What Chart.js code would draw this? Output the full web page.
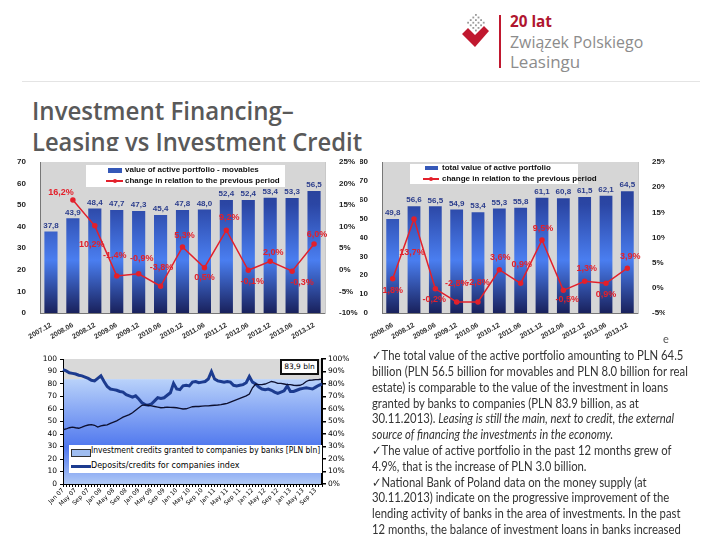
<!DOCTYPE html>
<html>
<head>
<meta charset="utf-8">
<script src="https://cdn.jsdelivr.net/npm/chart.js@4.4.0/dist/chart.umd.min.js"></script>
<style>
  body { margin: 0; width: 720px; height: 540px; background: #fff; position: relative; overflow: hidden; font-family: Lato, "Open Sans", sans-serif; }
  .abs { position: absolute; }
  .fit { white-space: nowrap; transform-origin: 0 0; }
  .box { background: #fff; }
  .title { color: #595959; font-family: "Open Sans", sans-serif; font-weight: 600; font-size: 26px; left: 32px; }
  .logo { font-family: "Open Sans", sans-serif; font-size: 16px; color: #8c8c8c; left: 510px; }
  .leg { font-family: "Liberation Sans", Arial, sans-serif; font-weight: bold; font-size: 8px; color: #111; }
  .txt { left: 372px; font-size: 13px; color: #333; font-family: Lato, sans-serif; }
  .txt i { font-style: italic; }
</style>
</head>
<body>
<canvas id="icon" class="abs" width="34" height="44" style="left:458px;top:10px"></canvas>
<div class="abs" style="left:499px;top:15px;width:1.5px;height:53px;background:#c0182f"></div>
<div class="abs logo fit" id="lg1" style="top:10px;color:#b0152f;font-weight:700">20 lat</div>
<div class="abs logo fit" id="lg2" style="top:31px">Związek Polskiego</div>
<div class="abs logo fit" id="lg3" style="top:51px">Leasingu</div>
<div class="abs" style="left:22px;top:81px;width:678px;height:1px;background:#e4e4e4"></div>

<div class="abs title fit" id="t1" style="top:92px">Investment Financing–</div>
<div class="abs title fit" id="t2" style="top:123px">Leasing vs Investment Credit</div>

<div class="abs box" style="left:0;top:151px;width:360px;height:190px"><canvas id="movChart" width="360" height="190"></canvas></div>
<div class="abs box" style="left:360px;top:151px;width:305px;height:190px"><canvas id="totChart" width="305" height="190"></canvas></div>

<div class="abs box" style="left:86px;top:165px;width:199px;height:22px"></div>
<div class="abs" style="left:108px;top:168px;width:14px;height:5px;background:#3558b8"></div>
<div class="abs leg fit" style="left:125px;top:165px">value of active portfolio - movables</div>
<div class="abs" style="left:106px;top:180px;width:17px;height:1.5px;background:#e3202b"></div>
<div class="abs" style="left:112.5px;top:178.5px;width:4px;height:4px;border-radius:2px;background:#e3202b"></div>
<div class="abs leg fit" style="left:125px;top:176px">change in relation to the previous period</div>

<div class="abs box" style="left:410px;top:164px;width:168px;height:20px"></div>
<div class="abs" style="left:425px;top:166px;width:13px;height:4px;background:#3558b8"></div>
<div class="abs leg fit" style="left:442px;top:163px">total value of active portfolio</div>
<div class="abs" style="left:423px;top:178px;width:16px;height:1.5px;background:#e3202b"></div>
<div class="abs" style="left:429px;top:176.5px;width:4px;height:4px;border-radius:2px;background:#e3202b"></div>
<div class="abs leg fit" style="left:442px;top:174px">change in relation to the previous period</div>

<div class="abs box" style="left:30px;top:345px;width:330px;height:180px"><canvas id="credChart" width="330" height="180"></canvas></div>
<div class="abs" style="left:69px;top:445px;width:253px;height:28px;background:#fff"></div>
<div class="abs" style="left:71px;top:449px;width:18px;height:6px;background:#9fbdf0;border:1px solid #333"></div>
<div class="abs fit" id="cl1" style="left:91px;top:446px;font-family:'DejaVu Sans';font-size:8px;color:#000">Investment credits granted to companies by banks [PLN bln]</div>
<div class="abs" style="left:71px;top:465px;width:20px;height:3px;background:#1c3b8f"></div>
<div class="abs fit" id="cl2" style="left:91px;top:461px;font-family:'DejaVu Sans';font-size:8px;color:#000">Deposits/credits for companies index</div>
<div class="abs fit" style="left:280px;top:359px;width:35px;height:12px;border:2px solid #111;background:#fff;font-family:'DejaVu Sans';font-size:7.5px;line-height:12px;text-align:center;color:#000">83,9 bln</div>

<div class="abs" style="left:663px;top:332px;font-size:11px;color:#555">e</div>

<div class="abs txt fit" style="top:347px">✓The total value of the active portfolio amounting to PLN 64.5</div>
<div class="abs txt fit" style="top:363px">billion (PLN 56.5 billion for movables and PLN 8.0 billion for real</div>
<div class="abs txt fit" style="top:379px">estate) is comparable to the value of the investment in loans</div>
<div class="abs txt fit" style="top:395px">granted by banks to companies (PLN 83.9 billion, as at</div>
<div class="abs txt fit" style="top:410px">30.11.2013). <i>Leasing is still the main, next to credit, the external</i></div>
<div class="abs txt fit" style="top:426px"><i>source of financing the investments in the economy.</i></div>
<div class="abs txt fit" style="top:442px">✓The value of active portfolio in the past 12 months grew of</div>
<div class="abs txt fit" style="top:458px">4.9%, that is the increase of PLN 3.0 billion.</div>
<div class="abs txt fit" style="top:474px">✓National Bank of Poland data on the money supply (at</div>
<div class="abs txt fit" style="top:489px">30.11.2013) indicate on the progressive improvement of the</div>
<div class="abs txt fit" style="top:505px">lending activity of banks in the area of investments. In the past</div>
<div class="abs txt fit" style="top:521px">12 months, the balance of investment loans in banks increased</div>

<script>
// leasing portfolio - movables (PLN bln) and change vs previous period (%)
const periodsMov = ['2007.12', '2008.06', '2008.12', '2009.06', '2009.12', '2010.06', '2010.12',
                    '2011.06', '2011.12', '2012.06', '2012.12', '2013.06', '2013.12'];
const movables = [37.8, 43.9, 48.4, 47.7, 47.3, 45.4, 47.8, 48.0, 52.4, 52.4, 53.4, 53.3, 56.5];
const movChange = [null, 16.2, 10.2, -1.4, -0.9, -3.8, 5.3, 0.5, 9.2, -0.1, 2.0, -0.3, 6.0];

// total active portfolio (PLN bln) and change (%)
const periodsTot = ['2008.06', '2008.12', '2009.06', '2009.12', '2010.06', '2010.12',
                    '2011.06', '2011.12', '2012.06', '2012.12', '2013.06', '2013.12'];
const totalPortfolio = [49.8, 56.6, 56.5, 54.9, 53.4, 55.3, 55.8, 61.1, 60.8, 61.5, 62.1, 64.5];
const totChange = [1.8, 13.7, -0.2, -2.8, -2.8, 3.6, 0.9, 9.5, -0.5, 1.3, 0.9, 3.9];

// monthly, Jan 07 .. Nov 13
const monthNames = ['Jan', 'Feb', 'Mar', 'Apr', 'May', 'Jun', 'Jul', 'Aug', 'Sep', 'Oct', 'Nov', 'Dec'];
const monthTicks = ['Jan 07', 'May 07', 'Sep 07', 'Jan 08', 'May 08', 'Sep 08', 'Jan 09', 'May 09', 'Sep 09',
                    'Jan 10', 'May 10', 'Sep 10', 'Jan 11', 'May 11', 'Sep 11', 'Jan 12', 'May 12', 'Sep 12',
                    'Jan 13', 'May 13', 'Sep 13'];
const investCredits = [
  43.4, 44.0, 45.0, 45.5, 45.0, 44.6, 45.5, 46.5, 47.2, 47.5, 47.0, 45.5,
  46.5, 47.0, 47.3, 48.5, 49.5, 50.5, 52.0, 53.5, 54.5, 55.5, 57.0, 59.0,
  61.0, 63.0, 63.3, 63.0, 62.5, 62.0, 61.5, 61.0, 61.2, 61.5, 61.3, 61.2,
  61.0, 60.5, 60.0, 60.2, 61.0, 61.8, 62.0, 62.0, 62.3, 62.5, 62.5, 62.8,
  63.0, 63.2, 63.5, 64.0, 64.5, 65.5, 66.5, 67.5, 68.5, 69.5, 70.5, 72.0,
  77.0, 80.0, 79.5, 79.5, 80.0, 81.0, 82.0, 81.5, 80.5, 80.5, 80.0, 79.5,
  79.5, 79.0, 78.8, 79.0, 80.0, 82.0, 83.0, 83.2, 83.5, 83.6, 83.9];
const depositRatio = [
  91.5, 90.5, 89.0, 88.5, 88.0, 87.0, 86.5, 85.5, 84.5, 83.0, 82.5, 84.5,
  86.5, 82.0, 78.0, 76.0, 75.5, 75.0, 74.0, 73.5, 71.5, 70.5, 69.5, 70.5,
  68.0, 65.0, 63.5, 63.0, 64.0, 66.5, 69.0, 68.5, 69.0, 71.0, 73.0, 80.5,
  76.0, 75.5, 78.5, 79.0, 78.5, 81.5, 82.0, 81.0, 81.5, 82.0, 84.0, 90.0,
  84.0, 82.5, 82.0, 81.5, 82.0, 81.5, 79.0, 78.5, 79.0, 79.5, 81.0, 86.0,
  81.5, 80.0, 77.5, 76.0, 75.5, 76.0, 75.0, 73.5, 72.5, 73.5, 74.5, 78.5,
  74.0, 74.0, 75.0, 76.0, 76.5, 77.0, 76.5, 76.0, 77.5, 79.0, 80.0];

const months = [];
for (let i = 0; i < investCredits.length; i++) {
    months.push(monthNames[i % 12] + ' ' + String(7 + Math.floor(i / 12)).padStart(2, '0'));
}

function fmt(v) {
    return v.toFixed(1).replace('.', ',');
}

function fitAll() {
    document.querySelectorAll('.txt').forEach(el => { el.style.transform = 'scaleX(' + (311 / document.querySelector('.txt').scrollWidth) + ')'; });
    const targets = { t1: 262, t2: 330, lg1: 42, lg2: 133, lg3: 70, cl1: 229, cl2: 148 };
    Object.keys(targets).forEach(id => {
        const el = document.getElementById(id);
        el.style.transform = 'scaleX(' + (targets[id] / el.scrollWidth) + ')';
    });
}
fitAll();

// logo mark
(function() {
    const c = document.getElementById('icon').getContext('2d');
    c.fillStyle = '#c0182f';
    c.beginPath();
    c.moveTo(4, 24); c.lineTo(10, 18); c.lineTo(17, 25); c.lineTo(26, 16); c.lineTo(31, 21);
    c.lineTo(17, 37); c.closePath(); c.fill();
    c.fillStyle = '#9a9a9a';
    for (let r = 0; r < 4; r++) {
        for (let k = 0; k < 4; k++) {
            const x = 17 + (k - r) * 2.6, y = 4 + (k + r) * 2.6;
            c.fillRect(x, y, 1.8, 1.8);
        }
    }
})();

const plotBg = {
    id: 'plotBg',
    beforeDraw(chart) {
        const a = chart.chartArea, ctx = chart.ctx;
        ctx.save();
        ctx.fillStyle = '#d6d6d6';
        ctx.fillRect(a.left, a.top, a.right - a.left, a.bottom - a.top);
        ctx.restore();
    }
};

const valueLabels = {
    id: 'valueLabels',
    afterDatasetsDraw(chart, args, opts) {
        const ctx = chart.ctx;
        const bars = chart.getDatasetMeta(0).data;
        const barData = chart.data.datasets[0].data;
        ctx.save();
        ctx.textAlign = 'center';
        ctx.font = 'bold 8px "Liberation Sans", Arial';
        ctx.fillStyle = '#2b3d8c';
        ctx.textBaseline = 'bottom';
        bars.forEach((b, i) => ctx.fillText(fmt(barData[i]), b.x, b.y - 2));
        const pts = chart.getDatasetMeta(1).data;
        const lineData = chart.data.datasets[1].data;
        ctx.font = 'bold 9px "Liberation Sans", Arial';
        ctx.fillStyle = '#e3202b';
        ctx.textBaseline = 'middle';
        pts.forEach((p, i) => {
            if (lineData[i] == null) return;
            const o = opts.offsets[i];
            ctx.fillText(fmt(lineData[i]) + '%', p.x + o[0], p.y + o[1]);
        });
        ctx.restore();
    }
};

function barFill(context) {
    const a = context.chart.chartArea;
    if (!a) return '#3558b8';
    const g = context.chart.ctx.createLinearGradient(0, a.bottom, 0, a.top);
    g.addColorStop(0, '#19215c');
    g.addColorStop(0.35, '#4a7ef0');
    g.addColorStop(0.72, '#2b46a4');
    g.addColorStop(1, '#263c8e');
    return g;
}

const tickFont = { family: '"Liberation Sans", Arial', size: 8, weight: 'bold' };

function portfolioChart(id, labels, bars, change, yMax, pMin, widths, offsets) {
    return new Chart(document.getElementById(id), {
        type: 'bar',
        data: {
            labels: labels,
            datasets: [{
                data: bars,
                backgroundColor: barFill,
                barPercentage: 0.6,
                categoryPercentage: 1,
                yAxisID: 'y',
                order: 2
            }, {
                type: 'line',
                data: change,
                borderColor: '#e3202b',
                backgroundColor: '#e3202b',
                borderWidth: 1.5,
                pointRadius: 2,
                pointHoverRadius: 2,
                yAxisID: 'y1',
                order: 1
            }]
        },
        options: {
            responsive: false,
            animation: false,
            layout: { padding: { top: 11, left: 0, right: 0, bottom: 0 } },
            plugins: { legend: { display: false }, tooltip: { enabled: false }, valueLabels: { offsets: offsets } },
            scales: {
                x: {
                    grid: { display: false },
                    border: { color: '#777' },
                    ticks: { font: { family: '"Liberation Sans", Arial', size: 7, weight: 'bold' }, color: '#333', minRotation: 30, maxRotation: 30, autoSkip: false, padding: 0 },
                    afterFit(s) { s.height = 28; }
                },
                y: {
                    min: 0, max: yMax,
                    ticks: { stepSize: 10, font: tickFont, color: '#222', padding: 6 },
                    grid: { display: false },
                    border: { color: '#777' },
                    afterFit(s) { s.width = widths[0]; }
                },
                y1: {
                    position: 'right',
                    min: pMin, max: 25,
                    ticks: { stepSize: 5, font: tickFont, color: '#222', callback: v => v + '%', padding: 6 },
                    grid: { display: false },
                    border: { color: '#c8c8c8' },
                    afterFit(s) { s.width = widths[1]; }
                }
            }
        },
        plugins: [plotBg, valueLabels]
    });
}

portfolioChart('movChart', periodsMov, movables, movChange, 70, -10, [40, 35],
    [[0, 0], [-12, -7], [-3, 19], [-2, -20], [3, -15], [1, -19], [2, -11], [0, 10], [3, -13], [4, 11], [3, -9], [10, 11], [3, -9]]);

portfolioChart('totChart', periodsTot, totalPortfolio, totChange, 80, -5, [22, 27],
    [[0, 12], [-2, 34], [-1, 11], [0, -18], [0, -19], [1, -12], [1, -19], [1, -12], [4, 9], [2, -13], [0, 11], [3, -12]]);

const creditBg = {
    id: 'creditBg',
    beforeDraw(chart) {
        const a = chart.chartArea, ctx = chart.ctx;
        const yTop = chart.scales.y.getPixelForValue(investCredits[investCredits.length - 1]);
        ctx.save();
        ctx.fillStyle = '#d9d9d9';
        ctx.fillRect(a.left, a.top, a.right - a.left, yTop - a.top);
        const g = ctx.createLinearGradient(0, yTop, 0, a.bottom);
        g.addColorStop(0, '#b9d2fa');
        g.addColorStop(0.65, '#4f77ee');
        g.addColorStop(1, '#b0c9f6');
        ctx.fillStyle = g;
        ctx.fillRect(a.left, yTop, a.right - a.left, a.bottom - yTop);
        ctx.restore();
    }
};

const smallFont = { family: '"DejaVu Sans"', size: 7.5 };

new Chart(document.getElementById('credChart'), {
    type: 'line',
    data: {
        labels: months,
        datasets: [{
            data: investCredits,
            borderColor: '#0d1030',
            borderWidth: 1.3,
            pointRadius: 0,
            yAxisID: 'y'
        }, {
            data: depositRatio,
            borderColor: '#1c3b8f',
            borderWidth: 3,
            pointRadius: 0,
            yAxisID: 'y1'
        }]
    },
    options: {
        responsive: false,
        animation: false,
        layout: { padding: { top: 14, left: 0, right: 0, bottom: 0 } },
        plugins: { legend: { display: false }, tooltip: { enabled: false } },
        scales: {
            x: {
                offset: false,
                grid: { drawOnChartArea: false, tickLength: 3, color: '#000' },
                border: { color: '#000' },
                ticks: {
                    autoSkip: false, minRotation: 45, maxRotation: 45, padding: 0,
                    font: { family: '"DejaVu Sans"', size: 6 }, color: '#000',
                    callback(v) { const l = this.getLabelForValue(v); return monthTicks.includes(l) ? l : ''; }
                },
                afterFit(s) { s.height = 41; }
            },
            y: {
                min: 0, max: 100,
                ticks: { stepSize: 10, font: smallFont, color: '#000', padding: 3 },
                grid: { drawOnChartArea: false, tickLength: 3, color: '#000' },
                border: { color: '#000' },
                afterFit(s) { s.width = 33; }
            },
            y1: {
                position: 'right',
                min: 0, max: 100,
                ticks: { stepSize: 10, font: smallFont, color: '#000', padding: 2, callback: v => v + '%' },
                grid: { drawOnChartArea: false, tickLength: 4, color: '#000', lineWidth: 1.5 },
                border: { color: '#000', width: 2 },
                afterFit(s) { s.width = 38; }
            }
        }
    },
    plugins: [creditBg]
});
</script>
</body>
</html>
